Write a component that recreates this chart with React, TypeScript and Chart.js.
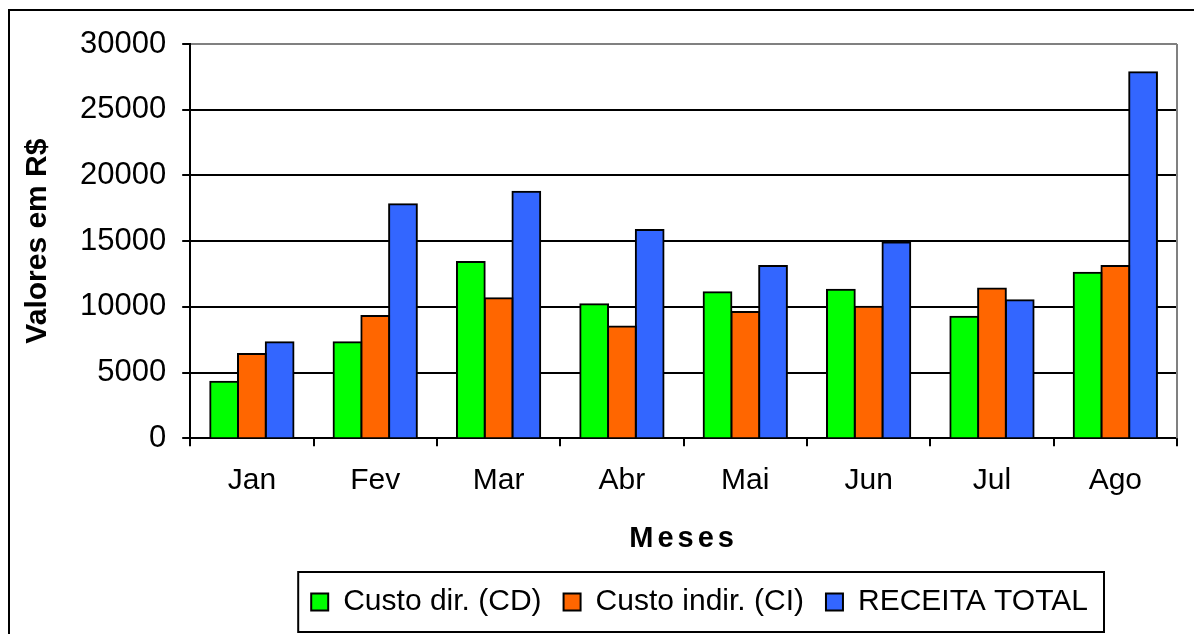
import React, { useEffect, useRef } from 'react';
import { Chart, registerables } from 'chart.js';

Chart.register(...registerables);

const months = ['Jan', 'Fev', 'Mar', 'Abr', 'Mai', 'Jun', 'Jul', 'Ago'];
const custoDireto = [4300, 7300, 13400, 10200, 11100, 11300, 9250, 12600];
const custoIndireto = [6400, 9300, 10650, 8500, 9600, 10000, 11400, 13100];
const receitaTotal = [7300, 17800, 18750, 15850, 13100, 14900, 10500, 27850];
const seriesLabels = ['Custo dir. (CD)', 'Custo indir. (CI)', 'RECEITA TOTAL'];
const seriesColors = ['#00FF00', '#FF6600', '#3366FF'];
const yMin = 0;
const yMax = 30000;
const yStep = 5000;
const xTitle = 'Meses';
const yTitle = 'Valores em R$';

const FONT = '"Liberation Sans", Arial, Helvetica, sans-serif';

const decorPlugin = {
  id: 'decor',
  beforeDraw(chart: any) {
    const ctx = chart.ctx;
    ctx.save();
    ctx.fillStyle = '#fff';
    ctx.fillRect(0, 0, chart.width, chart.height);
    ctx.strokeStyle = '#000';
    ctx.lineWidth = 2;
    ctx.strokeRect(9, 10, chart.width + 100, chart.height + 100);
    ctx.restore();
    const xs = chart.scales.x;
    if (xs && !xs.__spaced) {
      const orig = xs.drawTitle.bind(xs);
      xs.drawTitle = function () {
        const c = this.ctx;
        const prev = c.letterSpacing;
        c.letterSpacing = '4px';
        orig();
        c.letterSpacing = prev;
      };
      xs.__spaced = true;
    }
  },
  afterLayout(chart: any) {
    const lg = chart.legend;
    if (lg) {
      lg.left += 16;
      lg.right += 16;
    }
  },
  afterDraw(chart: any) {
    const ctx = chart.ctx;
    const { top, bottom, right } = chart.chartArea;
    ctx.save();
    ctx.strokeStyle = '#808080';
    ctx.lineWidth = 2;
    ctx.beginPath();
    ctx.moveTo(right, top);
    ctx.lineTo(right, bottom);
    ctx.stroke();
    const lg = chart.legend;
    if (lg && lg.legendHitBoxes && lg.legendHitBoxes.length) {
      const hb = lg.legendHitBoxes;
      const first = hb[0];
      const last = hb[hb.length - 1];
      const cy = first.top + first.height / 2;
      ctx.strokeStyle = '#000';
      ctx.lineWidth = 2;
      ctx.strokeRect(first.left - 13, cy - 30, last.left + last.width - first.left + 29, 60);
    }
    ctx.restore();
  },
};

export default function App() {
  const ref = useRef<HTMLCanvasElement>(null);
  useEffect(() => {
    if (!ref.current) return;
    const data = [custoDireto, custoIndireto, receitaTotal];
    const chart = new Chart(ref.current, {
      type: 'bar',
      data: {
        labels: months,
        datasets: data.map((d, i) => ({
          label: seriesLabels[i],
          data: d,
          backgroundColor: seriesColors[i],
          borderColor: '#000',
          borderWidth: 2,
          inflateAmount: 1,
          categoryPercentage: 0.675,
          barPercentage: 1,
        })),
      },
      options: {
        responsive: false,
        animation: false,
        layout: { padding: { left: 10, right: 17, top: 44, bottom: 7 } },
        font: { family: FONT },
        plugins: {
          tooltip: { enabled: false },
          legend: {
            position: 'bottom',
            fullSize: false,
            labels: {
              boxWidth: 17,
              boxHeight: 17,
              padding: 22,
              color: '#000',
              font: { family: FONT, size: 30 },
            },
          },
        },
        scales: {
          x: {
            grid: {
              drawOnChartArea: false,
              drawTicks: true,
              tickLength: 8,
              color: '#000',
              tickColor: '#000',
              lineWidth: 2,
            },
            border: { color: '#000', width: 2 },
            ticks: { color: '#000', padding: 17, maxRotation: 0, font: { family: FONT, size: 30 } },
            title: {
              display: true,
              text: xTitle,
              color: '#000',
              font: { family: FONT, size: 29, weight: 'bold' },
              padding: { top: 5, bottom: 9 },
            },
          },
          y: {
            min: yMin,
            max: yMax,
            grid: {
              color: (c: any) => (c.tick && c.tick.value === yMax ? '#808080' : '#000'),
              tickColor: '#000',
              lineWidth: 2,
              tickLength: 8,
            },
            border: { color: '#000', width: 2 },
            ticks: {
              stepSize: yStep,
              color: '#000',
              padding: 16,
              font: { family: FONT, size: 31 },
              callback: (v: any) => String(v),
            },
            title: {
              display: true,
              text: yTitle,
              color: '#000',
              font: { family: FONT, size: 30, weight: 'bold' },
              padding: { top: 10, bottom: 8 },
            },
          },
        },
      },
      plugins: [decorPlugin],
    } as any);
    return () => chart.destroy();
  }, []);
  return (
    <div style={{ position: 'fixed', left: 0, top: 0, width: 1194, height: 634, overflow: 'hidden', background: '#fff' }}>
      <canvas ref={ref} width={1194} height={634} style={{ display: 'block' }} />
    </div>
  );
}
